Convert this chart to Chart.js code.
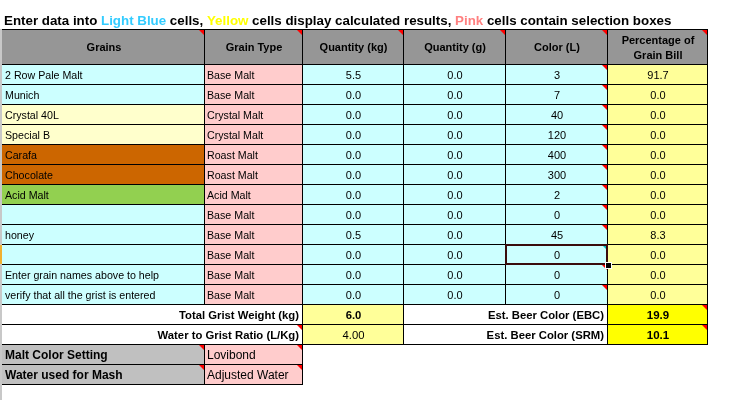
<!DOCTYPE html>
<html><head><meta charset="utf-8">
<script src="https://cdn.jsdelivr.net/npm/chart.js@4"></script>
<style>html,body{margin:0;padding:0;background:#fff;overflow:hidden}#wrap{width:734px;height:400px;position:relative}</style>
</head><body><div id="wrap"><canvas id="c"></canvas></div>
<script>
// ---------- data ----------
const headers = ["Grains","Grain Type","Quantity (kg)","Quantity (g)","Color (L)","Percentage of\nGrain Bill"];
const grains = ["2 Row Pale Malt","Munich","Crystal 40L","Special B","Carafa","Chocolate","Acid Malt","","honey","","Enter grain names above to help","verify that all the grist is entered"];
const grainTypes = ["Base Malt","Base Malt","Crystal Malt","Crystal Malt","Roast Malt","Roast Malt","Acid Malt","Base Malt","Base Malt","Base Malt","Base Malt","Base Malt"];
const quantityKg = [5.5,0,0,0,0,0,0,0,0.5,0,0,0];
const quantityG = [0,0,0,0,0,0,0,0,0,0,0,0];
const colorL = [3,7,40,120,400,300,2,0,45,0,0,0];
const percentGrainBill = [91.7,0,0,0,0,0,0,0,8.3,0,0,0];
const summaryLabels = ["Total Grist Weight (kg)","Water to Grist Ratio (L/Kg)","Est. Beer Color (EBC)","Est. Beer Color (SRM)"];
const summaryValues = ["6.0","4.00","19.9","10.1"];
const settingLabels = ["Malt Color Setting","Water used for Mash"];
const settingValues = ["Lovibond","Adjusted Water"];
const titleParts = ["Enter data into ","Light Blue"," cells, ","Yellow"," cells display calculated results, ","Pink"," cells contain selection boxes"];

// ---------- layout / style ----------
const colEdges = [0,202,300,401,503,605,705];
const headerH = 1.75;
const titleColors = ["#000","#33CCFF","#000","#FFFF00","#000","#FF8080","#000"];
const typeFill = {"Base Malt":"#CCFFFF","Crystal Malt":"#FFFFCC","Roast Malt":"#CC6600","Acid Malt":"#92D050"};
const FF = "'Liberation Sans', Arial, sans-serif";

const tablePlugin = {
  id: 'table',
  afterDraw(chart) {
    const ctx = chart.ctx, xs = chart.scales.x, ys = chart.scales.y;
    const X = v => Math.round(xs.getPixelForValue(v));
    const Y = v => Math.round(ys.getPixelForValue(v));
    const cells = [];
    function cell(c0, c1, r0, r1, fill, opts) {
      cells.push(Object.assign({x0: X(colEdges[c0]), x1: X(colEdges[c1]), y0: Y(r0), y1: Y(r1), fill}, opts || {}));
    }
    // header
    headers.forEach((h, c) => cell(c, c+1, 0, headerH, '#969696', {text: h, align: 'center', font: 'bold 11px', tri: true}));
    // data rows
    grains.forEach((g, i) => {
      const r0 = headerH + i, r1 = r0 + 1;
      cell(0,1,r0,r1,typeFill[grainTypes[i]], {text: g, align: 'left', font: '10.67px'});
      cell(1,2,r0,r1,'#FFCCCC', {text: grainTypes[i], align: 'left', font: '10.67px'});
      cell(2,3,r0,r1,'#CCFFFF', {text: quantityKg[i].toFixed(1), align: 'center', font: '11px'});
      cell(3,4,r0,r1,'#CCFFFF', {text: quantityG[i].toFixed(1), align: 'center', font: '11px'});
      cell(4,5,r0,r1,'#CCFFFF', {text: String(colorL[i]), align: 'center', font: '11px', tri: true, sel: i === 9});
      cell(5,6,r0,r1,'#FFFF99', {text: percentGrainBill[i].toFixed(1), align: 'center', font: '11px'});
    });
    // summary rows
    const s0 = headerH + grains.length;
    cell(0,2,s0,s0+1,'#FFFFFF',{text: summaryLabels[0], align:'right', font:'bold 11.3px'});
    cell(2,3,s0,s0+1,'#FFFF99',{text: summaryValues[0], align:'center', font:'bold 11.3px'});
    cell(3,5,s0,s0+1,'#FFFFFF',{text: summaryLabels[2], align:'right', font:'bold 11.3px'});
    cell(5,6,s0,s0+1,'#FFFF00',{text: summaryValues[2], align:'center', font:'bold 11.5px', tri: true});
    cell(0,2,s0+1,s0+2,'#FFFFFF',{text: summaryLabels[1], align:'right', font:'bold 11.3px', tri: true});
    cell(2,3,s0+1,s0+2,'#FFFF99',{text: summaryValues[1], align:'center', font:'11.3px'});
    cell(3,5,s0+1,s0+2,'#FFFFFF',{text: summaryLabels[3], align:'right', font:'bold 11.3px'});
    cell(5,6,s0+1,s0+2,'#FFFF00',{text: summaryValues[3], align:'center', font:'bold 11.5px', tri: true});
    settingLabels.forEach((l, k) => {
      cell(0,1,s0+2+k,s0+3+k,'#C0C0C0',{text: l, align:'left', font:'bold 12px', tri: true});
      cell(1,2,s0+2+k,s0+3+k,'#FFCCCC',{text: settingValues[k], align:'left', font:'12px', tri: true});
    });

    const tableLeft = X(colEdges[0]);
    ctx.save();
    // fills
    cells.forEach(c => { ctx.fillStyle = c.fill; ctx.fillRect(c.x0, c.y0, c.x1 - c.x0, c.y1 - c.y0); });
    // borders
    ctx.strokeStyle = '#000'; ctx.lineWidth = 1;
    cells.forEach(c => {
      ctx.beginPath();
      ctx.moveTo(c.x0, c.y0 + 0.5); ctx.lineTo(c.x1 + 1, c.y0 + 0.5);
      ctx.moveTo(c.x0, c.y1 + 0.5); ctx.lineTo(c.x1 + 1, c.y1 + 0.5);
      ctx.moveTo(c.x1 + 0.5, c.y0); ctx.lineTo(c.x1 + 0.5, c.y1 + 1);
      if (c.x0 !== tableLeft) { ctx.moveTo(c.x0 + 0.5, c.y0); ctx.lineTo(c.x0 + 0.5, c.y1 + 1); }
      ctx.stroke();
    });
    // comment triangles
    cells.forEach(c => {
      if (!c.tri) return;
      ctx.fillStyle = c.sel ? '#00BBBB' : '#FF0000';
      ctx.beginPath();
      ctx.moveTo(c.x1 - 5, c.y0 + 1); ctx.lineTo(c.x1, c.y0 + 1); ctx.lineTo(c.x1, c.y0 + 6); ctx.closePath(); ctx.fill();
    });
    // texts
    ctx.fillStyle = '#000';
    cells.forEach(c => {
      if (!c.text) return;
      const size = parseFloat(c.font.replace('bold ', ''));
      ctx.font = c.font + ' ' + FF;
      ctx.textAlign = c.align;
      ctx.textBaseline = 'alphabetic';
      const lines = c.text.split('\n');
      const cy = (c.y0 + c.y1) / 2 + 1;
      const lh = 14.7;
      let tx = c.align === 'left' ? c.x0 + 3 : c.align === 'right' ? c.x1 - 3 : (c.x0 + c.x1) / 2 + 1;
      lines.forEach((ln, k) => {
        const ly = cy + (k - (lines.length - 1) / 2) * lh + size * 0.358;
        ctx.fillText(ln, tx, ly);
      });
    });
    // selected cell
    cells.forEach(c => {
      if (!c.sel) return;
      ctx.strokeStyle = '#3a0c0c'; ctx.lineWidth = 2;
      ctx.strokeRect(c.x0 + 1, c.y0 + 1, c.x1 - c.x0 - 1, c.y1 - c.y0 - 1);
      ctx.fillStyle = '#fff'; ctx.fillRect(c.x1 - 2, c.y1 - 2, 7, 7);
      ctx.fillStyle = '#000'; ctx.fillRect(c.x1 - 1, c.y1 - 1, 5, 5);
      ctx.fillStyle = '#F0B030'; ctx.fillRect(0, c.y0 + 1, 2, c.y1 - c.y0 - 1);
    });
    // sheet left frame line
    ctx.fillStyle = '#C8C8C8';
    ctx.fillRect(0, Y(0), 2, chart.height - Y(0));
    cells.forEach(c => { if (c.sel) { ctx.fillStyle = '#F0B030'; ctx.fillRect(0, c.y0 + 1, 2, c.y1 - c.y0 - 1); } });
    // title
    ctx.font = 'bold 13.33px ' + FF;
    ctx.textAlign = 'left'; ctx.textBaseline = 'alphabetic';
    let tx = 4;
    titleParts.forEach((t, k) => { ctx.fillStyle = titleColors[k]; ctx.fillText(t, tx, 25); tx += ctx.measureText(t).width; });
    ctx.restore();
  }
};

new Chart(document.getElementById('c'), {
  type: 'scatter',
  data: { datasets: [] },
  options: {
    responsive: true, maintainAspectRatio: false, animation: false,
    layout: { padding: { left: 2, right: 27, top: 29, bottom: 16 } },
    scales: {
      x: { type: 'linear', min: colEdges[0], max: colEdges[colEdges.length - 1], display: false },
      y: { type: 'linear', min: 0, max: headerH + grains.length + summaryLabels.length / 2 + settingLabels.length, reverse: true, display: false }
    },
    plugins: { legend: { display: false }, tooltip: { enabled: false } },
    events: []
  },
  plugins: [tablePlugin]
});
</script></body></html>
